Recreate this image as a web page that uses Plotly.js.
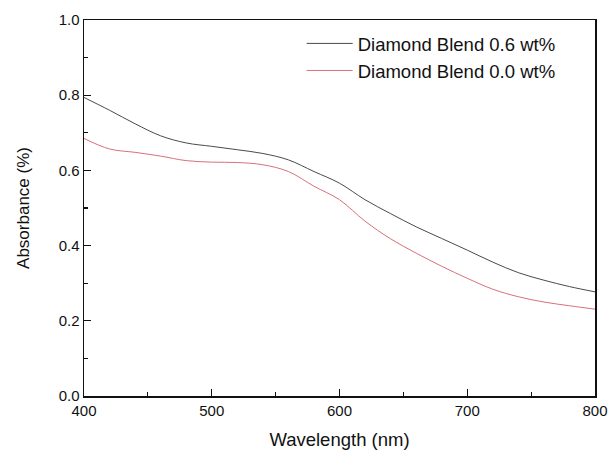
<!DOCTYPE html>
<html>
<head>
<meta charset="utf-8">
<script src="https://cdn.plot.ly/plotly-3.0.1.min.js"></script>
<style>html,body{margin:0;padding:0;background:#fff;}#chart{width:609px;height:450px;}</style>
</head>
<body>
<div id="chart"></div>
<script>
var wavelength = [400,420,440,460,480,500,520,540,560,580,600,620,640,660,680,700,720,740,760,780,800];
var blend06 = [0.794,0.760,0.724,0.692,0.673,0.664,0.655,0.645,0.628,0.597,0.566,0.522,0.485,0.450,0.419,0.388,0.356,0.328,0.308,0.291,0.277];
var blend00 = [0.685,0.657,0.648,0.638,0.626,0.622,0.621,0.615,0.597,0.558,0.522,0.465,0.418,0.380,0.345,0.313,0.284,0.264,0.250,0.240,0.231];
var seriesNames = ["Diamond Blend 0.6 wt%","Diamond Blend 0.0 wt%"];
var xTicks = [400,500,600,700,800];
var yTicks = [0.0,0.2,0.4,0.6,0.8,1.0];
var yTickLabels = ["0.0","0.2","0.4","0.6","0.8","1.0"];

var traces = [
  {x: wavelength, y: blend06, name: seriesNames[0], type:'scatter', mode:'lines',
   line:{color:'#4a4a4a', width:1, shape:'spline'}},
  {x: wavelength, y: blend00, name: seriesNames[1], type:'scatter', mode:'lines',
   line:{color:'#d9707a', width:1, shape:'spline'}}
];
var fontFam = 'Liberation Sans, Arial, sans-serif';
var layout = {
  width:609, height:450,
  margin:{l:84, r:14, t:20, b:54},
  paper_bgcolor:'#fff', plot_bgcolor:'#fff',
  font:{family:fontFam, color:'#111', size:15},
  showlegend:true,
  legend:{x:0.426, y:0.987, xanchor:'left', yanchor:'top', bgcolor:'rgba(0,0,0,0)',
          itemwidth:46,
          font:{family:fontFam, size:18.5, color:'#111'}, tracegroupgap:0},
  xaxis:{range:[400,800], tickvals:xTicks, ticktext:xTicks.map(String),
         ticks:'inside', ticklen:7, tickwidth:1.2, tickcolor:'#111',
         minor:{ticks:'inside', ticklen:4, dtick:50, tick0:400, tickcolor:'#111'},
         showline:true, linecolor:'#111', linewidth:1.5, mirror:true,
         showgrid:false, zeroline:false,
         tickfont:{size:15, family:fontFam},
         title:{text:'Wavelength (nm)', font:{size:18.5, family:fontFam}, standoff:15}},
  yaxis:{range:[0,1], tickvals:yTicks, ticktext:yTickLabels,
         ticks:'inside', ticklen:7, tickwidth:1.2, tickcolor:'#111',
         minor:{ticks:'inside', ticklen:4, dtick:0.1, tick0:0, tickcolor:'#111'},
         showline:true, linecolor:'#111', linewidth:1.5, mirror:true,
         showgrid:false, zeroline:false,
         tickfont:{size:15, family:fontFam},
         title:{text:'Absorbance (%)', font:{size:17, family:fontFam}, standoff:24}}
};
Plotly.newPlot('chart', traces, layout, {displayModeBar:false, staticPlot:true});
</script>
</body>
</html>
